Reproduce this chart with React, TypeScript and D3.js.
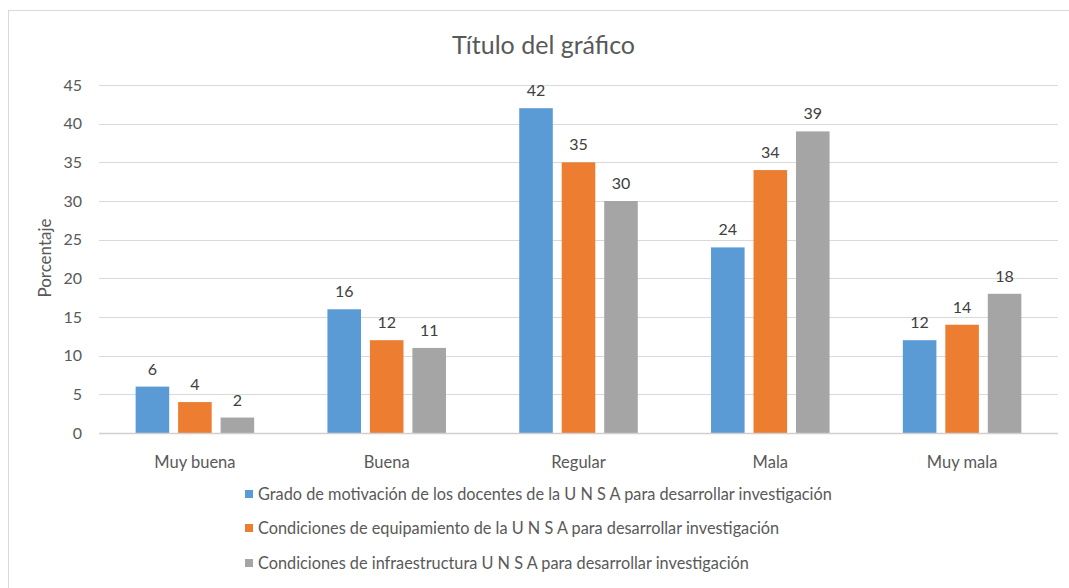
import * as d3 from "d3";

const W = 1069;
const H = 588;

const categories = ["Muy buena", "Buena", "Regular", "Mala", "Muy mala"];
const seriesNames = [
  "Grado de motivación de los docentes de la U N S A para desarrollar investigación",
  "Condiciones de equipamiento de la U N S A para desarrollar investigación",
  "Condiciones de infraestructura U N S A para desarrollar investigación",
];
const motivacion = [6, 16, 42, 24, 12];
const equipamiento = [4, 12, 35, 34, 14];
const infraestructura = [2, 11, 30, 39, 18];
const yTicks = [0, 5, 10, 15, 20, 25, 30, 35, 40, 45];
const colors = ["#5B9BD5", "#ED7D31", "#A5A5A5"];

const font = "Lato, 'Open Sans', sans-serif";
const textColor = "#595959";

const plot = { left: 99, right: 1058, top: 85, bottom: 433 };

const x = d3
  .scaleBand<string>()
  .domain(categories)
  .range([plot.left, plot.right])
  .paddingInner(0.382)
  .paddingOuter(0.191);

const xs = d3
  .scaleBand<number>()
  .domain([0, 1, 2])
  .range([0, x.bandwidth()])
  .paddingInner(0.21)
  .paddingOuter(0);

const y = d3.scaleLinear().domain([0, 45]).range([plot.bottom, plot.top]);

const allSeries = [motivacion, equipamiento, infraestructura];

function App() {
  return (
    <svg
      width={W}
      height={H}
      style={{ position: "absolute", left: 0, top: 0 }}
      fontFamily={font}
    >
      <rect x={0} y={0} width={W} height={H} fill="#fff" />
      <rect
        x={8.5}
        y={10.5}
        width={W + 10}
        height={H + 10}
        fill="#fff"
        stroke="#d9d9d9"
      />
      <text
        x={(plot.left + plot.right) / 2 - 35}
        y={54}
        textAnchor="middle"
        fontSize={25}
        fill={textColor}
      >
        Título del gráfico
      </text>

      {yTicks.map((t) => (
        <g key={t}>
          {t !== 0 && (
            <line
              x1={plot.left}
              x2={plot.right}
              y1={Math.round(y(t)) + 0.5}
              y2={Math.round(y(t)) + 0.5}
              stroke="#d9d9d9"
            />
          )}
          <text
            x={82}
            y={y(t) + 5.5}
            textAnchor="end"
            fontSize={16}
            fill={textColor}
          >
            {t}
          </text>
        </g>
      ))}

      <text
        transform={`translate(51,258) rotate(-90)`}
        textAnchor="middle"
        fontSize={17}
        fill={textColor}
      >
        Porcentaje
      </text>

      {categories.map((c, i) => (
        <g key={c} transform={`translate(${x(c)},0)`}>
          {allSeries.map((s, j) => {
            const v = s[i];
            const bx = xs(j)!;
            return (
              <g key={j}>
                <rect
                  x={bx}
                  y={y(v)}
                  width={xs.bandwidth()}
                  height={y(0) - y(v)}
                  fill={colors[j]}
                />
                <text
                  x={bx + xs.bandwidth() / 2}
                  y={y(v) - 12}
                  textAnchor="middle"
                  fontSize={16}
                  fill="#404040"
                >
                  {v}
                </text>
              </g>
            );
          })}
          <text
            x={x.bandwidth() / 2}
            y={468}
            textAnchor="middle"
            fontSize={16.5}
            fill={textColor}
          >
            {c}
          </text>
        </g>
      ))}

      <line
        x1={plot.left}
        x2={plot.right}
        y1={plot.bottom + 0.5}
        y2={plot.bottom + 0.5}
        stroke="#d0d0d0"
        strokeWidth={1.5}
      />

      {seriesNames.map((n, i) => {
        const cy = [494, 528, 563][i];
        return (
          <g key={n}>
            <rect x={245} y={cy - 4} width={8} height={8} fill={colors[i]} />
            <text x={258} y={cy + 5.5} fontSize={16.3} fill={textColor}>
              {n}
            </text>
          </g>
        );
      })}
    </svg>
  );
}

export default App;
